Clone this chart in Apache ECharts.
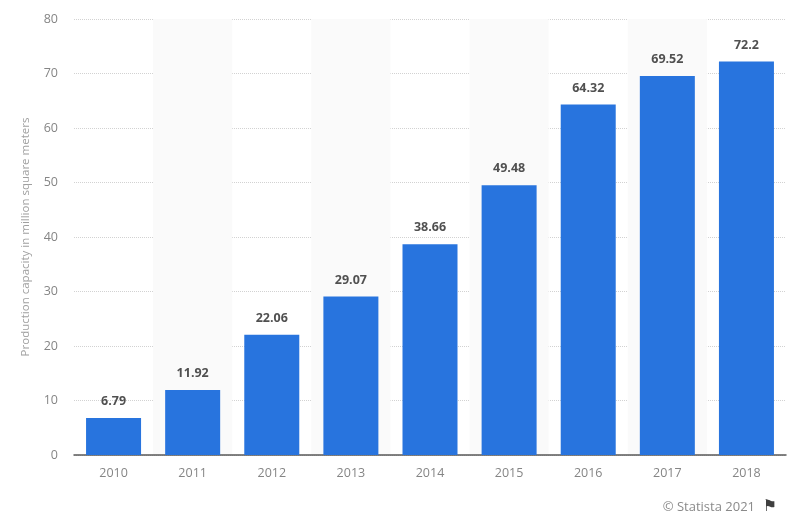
<!DOCTYPE html>
<html><head><meta charset="utf-8">
<style>html,body{margin:0;padding:0;background:#fff}#c{width:800px;height:526px}</style>
<script src="https://cdn.jsdelivr.net/npm/echarts@6/dist/echarts.min.js"></script>
</head><body><div id="c"></div>
<script>
const categories = ['2010','2011','2012','2013','2014','2015','2016','2017','2018'];
const values = [6.79,11.92,22.06,29.07,38.66,49.48,64.32,69.52,72.2];
const yTitle = 'Production capacity in million square meters';
const credit = '© Statista 2021';
const font = '"Open Sans", "Noto Sans", sans-serif';
const chart = echarts.init(document.getElementById('c'), null, {renderer:'canvas'});
chart.setOption({
  animation:false,
  backgroundColor:'#fff',
  grid:{left:74,right:14,top:19,bottom:71,containLabel:false},
  xAxis:{type:'category',data:categories,
    axisLine:{show:true,lineStyle:{color:'#5a5a5a',width:1.5}},
    axisTick:{show:false},
    axisLabel:{color:'#858585',fontSize:12.5,fontFamily:font,margin:12,letterSpacing:1},
    splitLine:{show:false},
    splitArea:{show:true,interval:0,areaStyle:{color:['rgba(255,255,255,0)','#fafafa']}}
  },
  yAxis:{type:'value',min:0,max:80,interval:10,
    name:yTitle,nameLocation:'middle',nameGap:42,
    nameTextStyle:{color:'#a0a0a0',fontSize:11.5,fontFamily:font},
    axisLine:{show:false},axisTick:{show:false},
    axisLabel:{color:'#858585',fontSize:12.5,fontFamily:font,margin:16},
    splitLine:{show:true,lineStyle:{color:'#d2d2d2',type:'dotted',width:1}}
  },
  series:[{type:'bar',data:values,barWidth:55,z:3,
    itemStyle:{color:'#2874de'},
    label:{show:true,position:'top',distance:10,color:'#505050',fontSize:12.5,fontWeight:'bold',fontFamily:font,letterSpacing:0.8}
  }],
  graphic:[
    {type:'text',right:45,top:501,style:{text:credit,fill:'#8a8a8a',font:'13px '+font,letterSpacing:0.4}},
    {type:'text',right:23,top:499,style:{text:'\u2691',fill:'#3f3f3f',font:'16px "DejaVu Sans"'}}
  ]
});
</script></body></html>
